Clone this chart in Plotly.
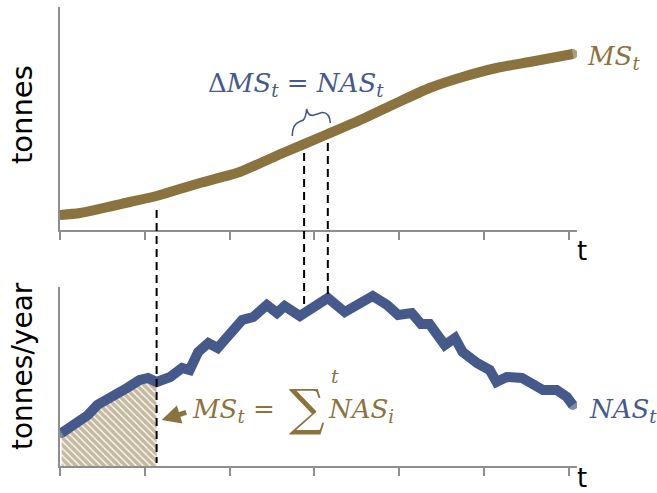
import plotly.graph_objects as go

# ---- data ----
ms_x = [0, 2.36, 8.25, 11.4, 16.5, 21.2, 26.3, 31.6, 35.7, 39.7, 43.6, 47.5, 51.5, 55.4, 60.5]
ms_y = [15, 17, 28, 34, 47, 58, 77, 96, 111, 127, 142, 153, 162, 168, 176]

nas_x = [0.2, 2.6, 3.3, 4.4, 6.5, 7.9, 9.4, 10.4, 11.4, 13.0, 14.4, 15.3, 16.3, 17.5, 18.6,
         20.3, 21.5, 22.8, 24.4, 25.6, 26.5, 28.3, 29.8, 31.6, 33.6, 36.9, 38.6, 39.9, 41.5,
         42.6, 43.6, 45.4, 46.6, 47.5, 49.2, 50.7, 51.5, 52.7, 54.5, 57.0, 58.6, 59.8, 60.5]
nas_y = [33, 48, 51, 61, 73, 78, 86, 88, 84, 89, 98, 96, 114, 123, 118,
         133, 146, 149, 161, 153, 160, 150, 159, 168, 154, 170, 161, 151, 153,
         142, 142, 121, 128, 114, 103, 96, 84, 89, 88, 76, 76, 69, 61]

tick_vals = [0, 10, 20, 30, 40, 50, 60]
cut_t = 11.4          # time where the hatched cumulative area ends
dt_a, dt_b = 28.8, 31.6  # the one-step interval

BROWN = "#8B7340"
BLUE = "#45598A"
GREY = "#8E8E8E"
MATH = "DejaVu Serif"
SANS = "DejaVu Sans"

fig = go.Figure()

# hatched cumulative area
hx = [x for x in nas_x if x <= cut_t]
hy = [nas_y[i] for i, x in enumerate(nas_x) if x <= cut_t]
fig.add_trace(go.Scatter(
    x=hx, y=hy, xaxis="x", yaxis="y", mode="lines", line=dict(width=0),
    fill="tozeroy", fillcolor="white",
    fillpattern=dict(shape="\\", fgcolor=BROWN, bgcolor="white", size=5, solidity=0.75),
    hoverinfo="skip", showlegend=False))

def ends(n, s):
    return [s] + [0] * (n - 2) + [s]

fig.add_trace(go.Scatter(
    x=nas_x, y=nas_y, xaxis="x", yaxis="y", mode="lines+markers",
    line=dict(color=BLUE, width=10),
    marker=dict(color=BLUE, size=ends(len(nas_x), 10), line=dict(width=0)),
    showlegend=False))

fig.add_trace(go.Scatter(
    x=ms_x, y=ms_y, xaxis="x2", yaxis="y2", mode="lines+markers",
    line=dict(color=BROWN, width=10, shape="spline", smoothing=0.6),
    marker=dict(color=BROWN, size=ends(len(ms_x), 10), line=dict(width=0)),
    showlegend=False))

axis_common = dict(showline=True, linecolor=GREY, linewidth=2, showgrid=False,
                   zeroline=False, showticklabels=False)
xcommon = dict(axis_common, range=[0, 61], tickvals=tick_vals, ticks="outside",
               ticklen=8, tickwidth=2, tickcolor=GREY)

TOTAL = 459.0
def py(p):  # pixel row -> paper y
    return (466 - p) / TOTAL

def px(p):  # pixel column -> paper x
    return (p - 60) / 517.0

fig.update_layout(
    width=657, height=493,
    margin=dict(l=60, r=80, t=7, b=27),
    paper_bgcolor="white", plot_bgcolor="white",
    xaxis=dict(xcommon, anchor="y", domain=[0, 1]),
    yaxis=dict(axis_common, range=[0, 179], domain=[0, py(287)]),
    xaxis2=dict(xcommon, anchor="y2", domain=[0, 1]),
    yaxis2=dict(axis_common, range=[0, 223], domain=[py(230), 1]),
    showlegend=False,
)

dash = dict(color="black", width=2, dash="8px,5px")
shapes = [
    dict(type="line", xref="x", yref="paper", x0=cut_t, x1=cut_t, y0=py(210), y1=py(463), line=dash),
    dict(type="line", xref="x", yref="paper", x0=dt_a, x1=dt_a, y0=py(153), y1=py(307), line=dash),
    dict(type="line", xref="x", yref="paper", x0=dt_b, x1=dt_b, y0=py(143), y1=py(296), line=dash),
    dict(type="path", xref="x2", yref="y2",
         path="M 27.4,94 Q 27.4,106 28.3,108.5 L 28.7,110 Q 29.0,112 29.1,121 "
              "Q 29.3,113 30.0,115 L 30.9,117.5 Q 31.8,118 31.9,107",
         line=dict(color=BLUE, width=1.6)),
]
fig.update_layout(shapes=shapes)

def A(**kw):
    d = dict(showarrow=False, xanchor="center", yanchor="middle")
    d.update(kw)
    return d

ann = []
ann.append(A(xref="x2", yref="y2", x=27.8, y=146,
             text="Δ<i>MS</i><sub><i>t</i></sub> = <i>NAS</i><sub><i>t</i></sub>",
             font=dict(family=MATH, size=26, color=BLUE)))
ann.append(A(xref="paper", yref="paper", x=px(585), y=py(57), xanchor="left",
             text="<i>MS</i><sub><i>t</i></sub>",
             font=dict(family=MATH, size=26, color=BROWN)))
ann.append(A(xref="paper", yref="paper", x=px(587), y=py(410), xanchor="left",
             text="<i>NAS</i><sub><i>t</i></sub>",
             font=dict(family=MATH, size=26, color=BLUE)))
ann.append(A(xref="x", yref="y", x=15.3, y=56, xanchor="left",
             text="<i>MS</i><sub><i>t</i></sub> =",
             font=dict(family=MATH, size=26, color=BROWN)))
ann.append(A(xref="x", yref="y", x=29.2, y=58,
             text="∑", font=dict(family=MATH, size=50, color=BROWN)))
ann.append(A(xref="x", yref="y", x=32.4, y=90,
             text="<i>t</i>", font=dict(family=MATH, size=19, color=BROWN)))
ann.append(A(xref="x", yref="y", x=31.4, y=56, xanchor="left",
             text="<i>NAS</i><sub><i>i</i></sub>",
             font=dict(family=MATH, size=26, color=BROWN)))
# arrow pointing at the hatched area
ann.append(dict(xref="x", yref="y", x=12.0, y=46, ax=26, ay=-8, text="",
                showarrow=True, arrowhead=2, arrowsize=0.75, arrowwidth=5, arrowcolor=BROWN))
# axis titles
ann.append(A(xref="paper", yref="paper", x=px(22), y=py(115),
             textangle=-90, text="tonnes", font=dict(family=SANS, size=29, color="black")))
ann.append(A(xref="paper", yref="paper", x=px(22), y=py(366),
             textangle=-90, text="tonnes/year", font=dict(family=SANS, size=28, color="black")))
ann.append(A(xref="paper", yref="paper", x=px(582), y=py(251),
             text="t", font=dict(family=SANS, size=26, color="black")))
ann.append(A(xref="paper", yref="paper", x=px(582), y=py(478),
             text="t", font=dict(family=SANS, size=26, color="black")))
fig.update_layout(annotations=ann)

fig.write_html("out.html")
